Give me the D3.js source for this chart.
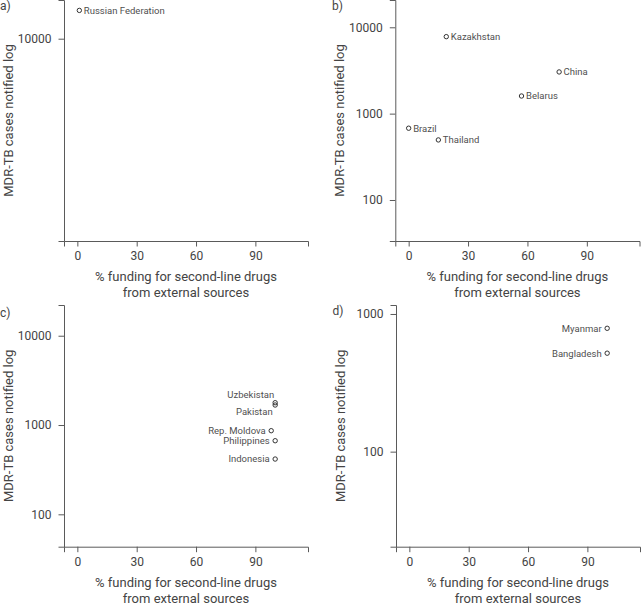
<!DOCTYPE html>
<html>
<head>
<meta charset="utf-8">
<script src="https://cdn.jsdelivr.net/npm/d3@7"></script>
<style>
  body { margin: 0; background: #fff; }
  svg { display: block; font-family: Roboto, "Noto Sans", sans-serif; }
</style>
</head>
<body>
<svg id="chart" width="641" height="605"></svg>
<script>
// ---- Data ----
const xTicks = [0, 30, 60, 90];

const countriesA = ["Russian Federation"];
const fundingA   = [1];
const casesA     = [13450];
const yTicksA    = [10000];

const countriesB = ["Kazakhstan", "China", "Belarus", "Brazil", "Thailand"];
const fundingB   = [19, 76, 57, 0, 15];
const casesB     = [7790, 3040, 1600, 678, 496];
const yTicksB    = [100, 1000, 10000];

const countriesC = ["Uzbekistan", "Pakistan", "Rep. Moldova", "Philippines", "Indonesia"];
const fundingC   = [100, 100, 98, 100, 100];
const casesC     = [1778, 1675, 864, 667, 416];
const yTicksC    = [100, 1000, 10000];

const countriesD = ["Myanmar", "Bangladesh"];
const fundingD   = [100, 100];
const casesD     = [787, 519];
const yTicksD    = [100, 1000];

const panelLetters = ["a)", "b)", "c)", "d)"];
const xTitleLines = ["% funding for second-line drugs", "from external sources"];
const yTitle = "MDR-TB cases notified log";

// ---- Layout (styling only) ----
const svg = d3.select("#chart");
const axisColor = "#5a5a5a";
const textColor = "#444";
const labelColor = "#505050";
const xDomain = [-6.75, 116.6];

const panels = [
  { letter: panelLetters[0], names: countriesA, xs: fundingA, ys: casesA, yTicks: yTicksA,
    x0: 64, x1: 308, top: 0, bottom: 241, yDomain: [1200, 15000], side: "right",
    letterPos: [0, 10] },
  { letter: panelLetters[1], names: countriesB, xs: fundingB, ys: casesB, yTicks: yTicksB,
    x0: 395.3, x1: 639.5, top: 0, bottom: 241, yDomain: [33.5, 20700], side: "right",
    letterPos: [332, 10] },
  { letter: panelLetters[2], names: countriesC, xs: fundingC, ys: casesC, yTicks: yTicksC,
    x0: 64, x1: 308, top: 305, bottom: 546.7, yDomain: [43.4, 22080], side: "left",
    letterPos: [0, 317] },
  { letter: panelLetters[3], names: countriesD, xs: fundingD, ys: casesD, yTicks: yTicksD,
    x0: 396, x1: 640, top: 305, bottom: 546.7, yDomain: [20.4, 1162], side: "left",
    letterPos: [332.5, 315] }
];

// special label placement for overlapping points
const labelOffsets = {
  "Uzbekistan": { dx: -1, dy: -8.5, anchor: "end" },
  "Pakistan":   { dx: -2.5, dy: 7,  anchor: "end" }
};

panels.forEach(p => {
  const x = d3.scaleLinear().domain(xDomain).range([p.x0, p.x1]);
  const y = d3.scaleLog().domain(p.yDomain).range([p.bottom, p.top]);

  const g = svg.append("g");

  // x axis
  const xa = g.append("g")
    .attr("transform", `translate(0,${p.bottom})`)
    .call(d3.axisBottom(x).tickValues(xTicks).tickSizeOuter(0).tickSize(5.5).tickPadding(5)
      .tickFormat(d3.format("d")));
  // y axis
  const ya = g.append("g")
    .attr("transform", `translate(${p.x0},0)`)
    .call(d3.axisLeft(y).tickValues(p.yTicks).tickSizeOuter(0).tickSize(5.5).tickPadding(7)
      .tickFormat(d3.format("d")));

  [xa, ya].forEach(a => {
    a.select(".domain").attr("stroke", axisColor).attr("stroke-width", 1);
    a.selectAll(".tick line").attr("stroke", axisColor).attr("stroke-width", 1);
    a.selectAll(".tick text").attr("fill", textColor).attr("font-size", 12)
      .attr("font-family", "Roboto, sans-serif");
  });

  // x title
  const cx = (p.x0 + p.x1) / 2;
  xTitleLines.forEach((t, i) => {
    g.append("text")
      .attr("x", cx)
      .attr("y", p.bottom + 40 + i * 16)
      .attr("text-anchor", "middle")
      .attr("font-size", 13)
      .attr("fill", textColor)
      .text(t);
  });

  // y title
  const cy = (p.top + p.bottom) / 2;
  g.append("text")
    .attr("transform", `translate(${p.x0 - 51.5},${cy}) rotate(-90)`)
    .attr("text-anchor", "middle")
    .attr("font-size", 13)
    .attr("fill", textColor)
    .text(yTitle);

  // panel letter
  g.append("text")
    .attr("x", p.letterPos[0])
    .attr("y", p.letterPos[1])
    .attr("font-size", 12)
    .attr("fill", textColor)
    .text(p.letter);

  // points
  const data = p.names.map((n, i) => ({ name: n, fx: p.xs[i], cy: p.ys[i] }));
  g.selectAll("circle.pt").data(data).join("circle")
    .attr("class", "pt")
    .attr("cx", d => x(d.fx))
    .attr("cy", d => y(d.cy))
    .attr("r", 2.2)
    .attr("fill", "none")
    .attr("stroke", "#333")
    .attr("stroke-width", 1);

  g.selectAll("text.lbl").data(data).join("text")
    .attr("class", "lbl")
    .attr("x", d => {
      const o = labelOffsets[d.name];
      if (o) return x(d.fx) + o.dx;
      return x(d.fx) + (p.side === "right" ? 4.5 : -5.5);
    })
    .attr("y", d => {
      const o = labelOffsets[d.name];
      return y(d.cy) + (o ? o.dy : 0);
    })
    .attr("dy", "0.35em")
    .attr("text-anchor", d => {
      const o = labelOffsets[d.name];
      if (o) return o.anchor;
      return p.side === "right" ? "start" : "end";
    })
    .attr("font-size", 9.5)
    .attr("fill", labelColor)
    .text(d => d.name);
});
</script>
</body>
</html>
